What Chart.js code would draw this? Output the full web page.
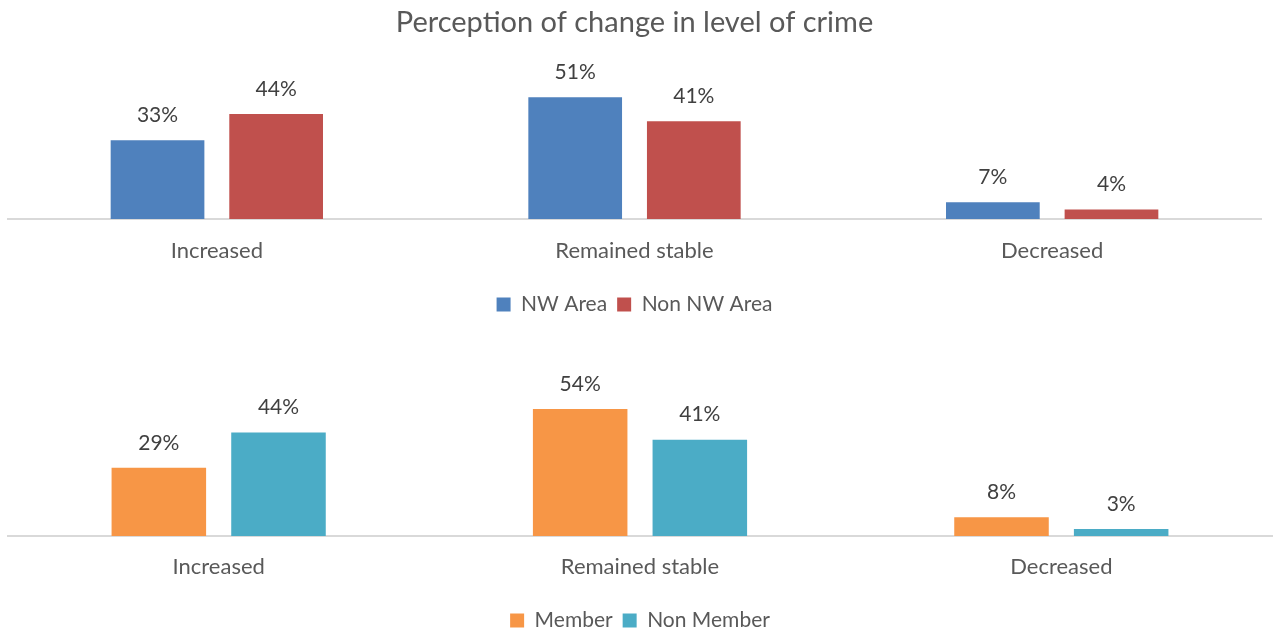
<!DOCTYPE html>
<html lang="en">
<head>
  <meta charset="UTF-8">
  <title>Perception of change in level of crime</title>
  <script src="https://cdn.jsdelivr.net/npm/chart.js"></script>
  <style>
    * { box-sizing: border-box; }
    html, body { margin:0; padding:0; background:#fff; overflow:hidden; width:1275px; height:629px; }
    .wrap { position:absolute; left:0; }
    #topWrap { top:0; width:1270px; height:325px; }
    #botWrap { top:300px; width:1275px; height:341px; }
  </style>
</head>
<body>
  <div id="topWrap" class="wrap"><canvas id="areaChart"></canvas></div>
  <div id="botWrap" class="wrap"><canvas id="memberChart"></canvas></div>

  <script>
    const categories = ['Increased', 'Remained stable', 'Decreased'];
    const nwArea     = [33, 51, 7];
    const nonNwArea  = [44, 41, 4];
    const member     = [29, 54, 8];
    const nonMember  = [44, 41, 3];

    const FONT = 'Lato, "Open Sans", sans-serif';
    const TEXT = '#595959';

    // draws the "33%" style labels over each bar
    const barLabels = {
      id: 'barLabels',
      afterDatasetsDraw(chart) {
        const ctx = chart.ctx;
        ctx.save();
        ctx.font = '21px ' + FONT;
        ctx.fillStyle = '#404040';
        ctx.textAlign = 'center';
        ctx.textBaseline = 'middle';
        chart.data.datasets.forEach((ds, i) => {
          chart.getDatasetMeta(i).data.forEach((bar, j) => {
            ctx.fillText(ds.data[j] + '%', bar.x, bar.y - 25);
          });
        });
        ctx.restore();
      }
    };

    function makeChart(id, labels, colors, opts) {
      return new Chart(document.getElementById(id), {
        type: 'bar',
        data: {
          labels: categories,
          datasets: [
            { label: labels[0], data: opts.d1, backgroundColor: colors[0] },
            { label: labels[1], data: opts.d2, backgroundColor: colors[1] }
          ]
        },
        options: {
          responsive: true,
          maintainAspectRatio: false,
          animation: false,
          categoryPercentage: 0.568,
          barPercentage: 0.79,
          layout: { padding: { left: 8, right: opts.right, top: opts.top, bottom: 0 } },
          scales: {
            x: {
              grid: { display: false, drawTicks: false },
              border: { display: true, color: '#d9d9d9', width: 2 },
              ticks: { color: TEXT, font: { family: FONT, size: 22 }, padding: opts.tickPad },
              afterFit: s => { s.height = opts.axisH; }
            },
            y: { display: false, min: 0, max: 60 }
          },
          plugins: {
            title: {
              display: !!opts.title,
              text: opts.title,
              color: TEXT,
              font: { family: FONT, size: 29, weight: 'normal' },
              padding: { top: 5, bottom: 36 }
            },
            legend: {
              position: 'bottom',
              labels: { color: TEXT, font: { family: FONT, size: 21 }, boxWidth: 14, boxHeight: 14, padding: 10 }
            },
            tooltip: { enabled: false }
          }
        },
        plugins: [barLabels]
      });
    }

    makeChart('areaChart', ['NW Area', 'Non NW Area'], ['#4f81bd', '#c0504d'],
      { d1: nwArea, d2: nonNwArea, title: 'Perception of change in level of crime', top: 0, right: 9, axisH: 65, tickPad: 19 });
    makeChart('memberChart', ['Member', 'Non Member'], ['#f79646', '#4bacc6'],
      { d1: member, d2: nonMember, title: '', top: 95, right: 3, axisH: 64, tickPad: 18 });
  </script>
</body>
</html>
